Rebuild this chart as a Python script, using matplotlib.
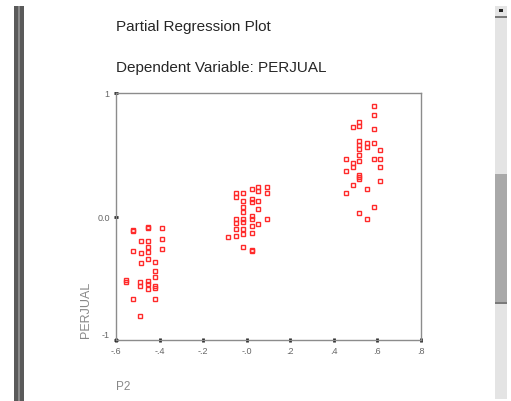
import matplotlib
matplotlib.use("Agg")
import matplotlib.pyplot as plt
from matplotlib.patches import Rectangle
from matplotlib.transforms import ScaledTranslation

# ---- data ----
p2_low = [-0.522, -0.522, -0.453, -0.453, -0.388, -0.388, -0.388, -0.485, -0.453, -0.453,
          -0.522, -0.485, -0.453, -0.453, -0.485, -0.420, -0.420, -0.420, -0.420, -0.420,
          -0.420, -0.554, -0.554, -0.489, -0.489, -0.453, -0.453, -0.453, -0.522, -0.489]
perjual_low = [-0.11, -0.12, -0.095, -0.085, -0.095, -0.18, -0.265, -0.20, -0.20, -0.245,
               -0.28, -0.295, -0.285, -0.345, -0.375, -0.37, -0.44, -0.49, -0.565, -0.58,
               -0.67, -0.515, -0.53, -0.53, -0.565, -0.52, -0.545, -0.585, -0.67, -0.805]

p2_mid = [0.054, 0.091, 0.022, 0.054, 0.091, -0.047, -0.047, -0.015, 0.022, 0.022,
          -0.015, 0.054, -0.015, 0.054, -0.015, 0.022, 0.022, -0.047, -0.047, -0.015,
          0.054, 0.091, 0.022, -0.047, -0.015, -0.015, 0.022, -0.047, -0.084, -0.015,
          0.022, 0.022, -0.015]
perjual_mid = [0.24, 0.24, 0.22, 0.205, 0.19, 0.19, 0.16, 0.19, 0.14, 0.12,
               0.125, 0.125, 0.08, 0.06, 0.035, 0.005, -0.02, -0.02, -0.055, -0.02,
               -0.06, -0.02, -0.08, -0.10, -0.10, -0.14, -0.135, -0.16, -0.165, -0.245,
               -0.27, -0.28, -0.045]

p2_high = [0.584, 0.584, 0.488, 0.515, 0.515, 0.584, 0.515, 0.515, 0.552, 0.552,
           0.584, 0.612, 0.515, 0.515, 0.455, 0.488, 0.515, 0.584, 0.612, 0.612,
           0.455, 0.488, 0.515, 0.515, 0.515, 0.612, 0.488, 0.552, 0.455, 0.584,
           0.515, 0.552]
perjual_high = [0.895, 0.82, 0.725, 0.765, 0.733, 0.71, 0.61, 0.58, 0.595, 0.56,
                0.595, 0.54, 0.545, 0.50, 0.465, 0.435, 0.45, 0.465, 0.465, 0.40,
                0.37, 0.40, 0.335, 0.32, 0.305, 0.29, 0.255, 0.22, 0.19, 0.08,
                0.03, -0.02]

x_ticks = [-0.6, -0.4, -0.2, 0.0, 0.2, 0.4, 0.6, 0.8]
x_tick_labels = ["-.6", "-.4", "-.2", "-.0", ".2", ".4", ".6", ".8"]
y_ticks = [-1, 0, 1]
y_tick_labels = ["-1", "0.0", "1"]

title1 = "Partial Regression Plot"
title2 = "Dependent Variable: PERJUAL"
x_label = "P2"
y_label = "PERJUAL"

W, H = 511, 402
fig = plt.figure(figsize=(W / 100, H / 100), dpi=100)
fig.patch.set_facecolor("white")

narrow = ["Liberation Sans Narrow", "Liberation Sans", "DejaVu Sans"]

# ---- window decorations (screenshot frame) ----
def px_rect(x0, y0, x1, y1, **kw):
    fig.patches.append(Rectangle((x0 / W, 1 - y1 / H), (x1 - x0) / W, (y1 - y0) / H,
                                 transform=fig.transFigure, figure=fig, **kw))

px_rect(14, 7, 24, 402, facecolor="#5a5a5a", edgecolor="none")
px_rect(18, 7, 20, 402, facecolor="#8a8a8a", edgecolor="none")
px_rect(495, 7, 507, 400, facecolor="#e4e4e4", edgecolor="none")
px_rect(495, 175, 507, 305, facecolor="#a9a9a9", edgecolor="none")
px_rect(495, 303, 507, 305, facecolor="#7a7a7a", edgecolor="none")
px_rect(495, 17, 507, 19, facecolor="#7a7a7a", edgecolor="none")
px_rect(499, 10, 503, 13, facecolor="#222222", edgecolor="none")

# ---- plot ----
ax = fig.add_axes([116 / W, 1 - 341 / H, (421 - 116) / W, (341 - 94) / H])
mk = dict(linestyle="none", marker="s", markersize=3.3, markerfacecolor="none",
          markeredgecolor="#ff2a2a", markeredgewidth=1.0)
ax.plot(p2_low, perjual_low, **mk)
ax.plot(p2_mid, perjual_mid, **mk)
ax.plot(p2_high, perjual_high, **mk)

ax.set_xlim(-0.6, 0.8)
ax.set_ylim(-1, 1)
ax.set_xticks(x_ticks)
ax.set_xticklabels(x_tick_labels)
ax.set_yticks(y_ticks)
ax.set_yticklabels(y_tick_labels)
for s in ax.spines.values():
    s.set_color("#8c8c8c")
    s.set_linewidth(1.0)
ax.tick_params(axis="both", direction="inout", length=3, width=2, color="#222222",
               labelsize=6.5, labelcolor="#666666", pad=3)
for lab in ax.get_xticklabels() + ax.get_yticklabels():
    lab.set_family(narrow)
# the "-1" label sits a little above its tick in the reference
ylabs = ax.get_yticklabels()
ylabs[0].set_transform(ylabs[0].get_transform() + ScaledTranslation(0, 6 / 100, fig.dpi_scale_trans))

fig.text(116 / W, 1 - 27 / H, title1, ha="left", va="center", fontsize=11,
         color="#262626", family=narrow)
fig.text(116 / W, 1 - 68 / H, title2, ha="left", va="center", fontsize=11,
         color="#262626", family=narrow)
fig.text(86 / W, 1 - 310 / H, y_label, ha="center", va="center", rotation=90,
         fontsize=9, color="#888888", family=narrow)
fig.text(116 / W, 1 - 387 / H, x_label, ha="left", va="center",
         fontsize=8.5, color="#888888", family=narrow)

fig.savefig("out.png", dpi=100)
